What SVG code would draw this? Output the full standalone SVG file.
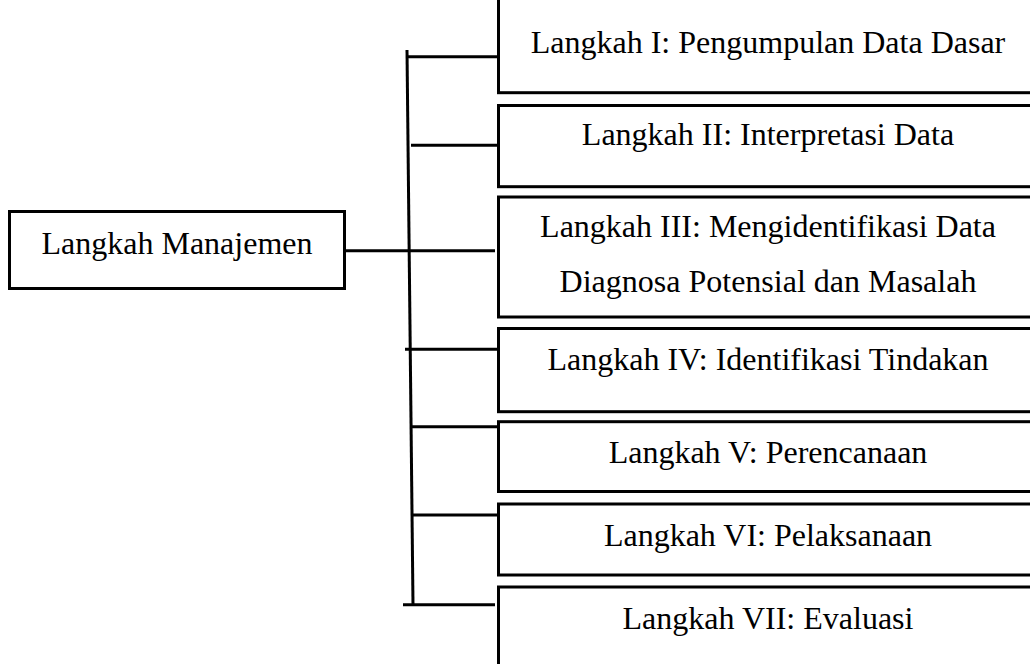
<svg xmlns="http://www.w3.org/2000/svg" width="1030" height="664" viewBox="0 0 1030 664">
<style>
.box{fill:#fff;stroke:#000;stroke-width:3}
.ln{stroke:#000;stroke-width:3;fill:none}
text{font-family:"Liberation Serif","Times New Roman",serif;font-size:32px;fill:#000;text-anchor:middle}
</style>
<rect width="1030" height="664" fill="#fff"/>
<g id="connectors">
<line class="ln" x1="407" y1="50" x2="413" y2="605"/>
<line class="ln" x1="407" y1="56.7" x2="502" y2="56.7"/>
<line class="ln" x1="411" y1="145.3" x2="498" y2="145.3"/>
<line class="ln" x1="345" y1="250.7" x2="495" y2="250.7"/>
<line class="ln" x1="405" y1="349.3" x2="498" y2="349.3"/>
<line class="ln" x1="411" y1="426.7" x2="502" y2="426.7"/>
<line class="ln" x1="411" y1="515" x2="502" y2="515"/>
<line class="ln" x1="403" y1="604.7" x2="495" y2="604.7"/>
</g>
<g id="root">
<rect class="box" x="9.5" y="211.5" width="335" height="77"/>
<text x="177" y="254.3">Langkah Manajemen</text>
</g>
<g id="step1">
<rect class="box" x="498.5" y="-20" width="545" height="112.7"/>
<text x="768" y="52.7">Langkah I: Pengumpulan Data Dasar</text>
</g>
<g id="step2">
<rect class="box" x="498.5" y="105.5" width="545" height="81.2"/>
<text x="768" y="145">Langkah II: Interpretasi Data</text>
</g>
<g id="step3">
<rect class="box" x="498.5" y="197" width="545" height="120"/>
<text x="768" y="236.7">Langkah III: Mengidentifikasi Data</text>
<text x="768" y="291.7">Diagnosa Potensial dan Masalah</text>
</g>
<g id="step4">
<rect class="box" x="498.5" y="328.5" width="545" height="83.2"/>
<text x="768" y="370">Langkah IV: Identifikasi Tindakan</text>
</g>
<g id="step5">
<rect class="box" x="498.5" y="421.7" width="545" height="69.8"/>
<text x="768" y="463.3">Langkah V: Perencanaan</text>
</g>
<g id="step6">
<rect class="box" x="498.5" y="504" width="545" height="71"/>
<text x="768" y="546">Langkah VI: Pelaksanaan</text>
</g>
<g id="step7">
<rect class="box" x="498.5" y="587" width="545" height="100"/>
<text x="768" y="629.3">Langkah VII: Evaluasi</text>
</g>
</svg>
